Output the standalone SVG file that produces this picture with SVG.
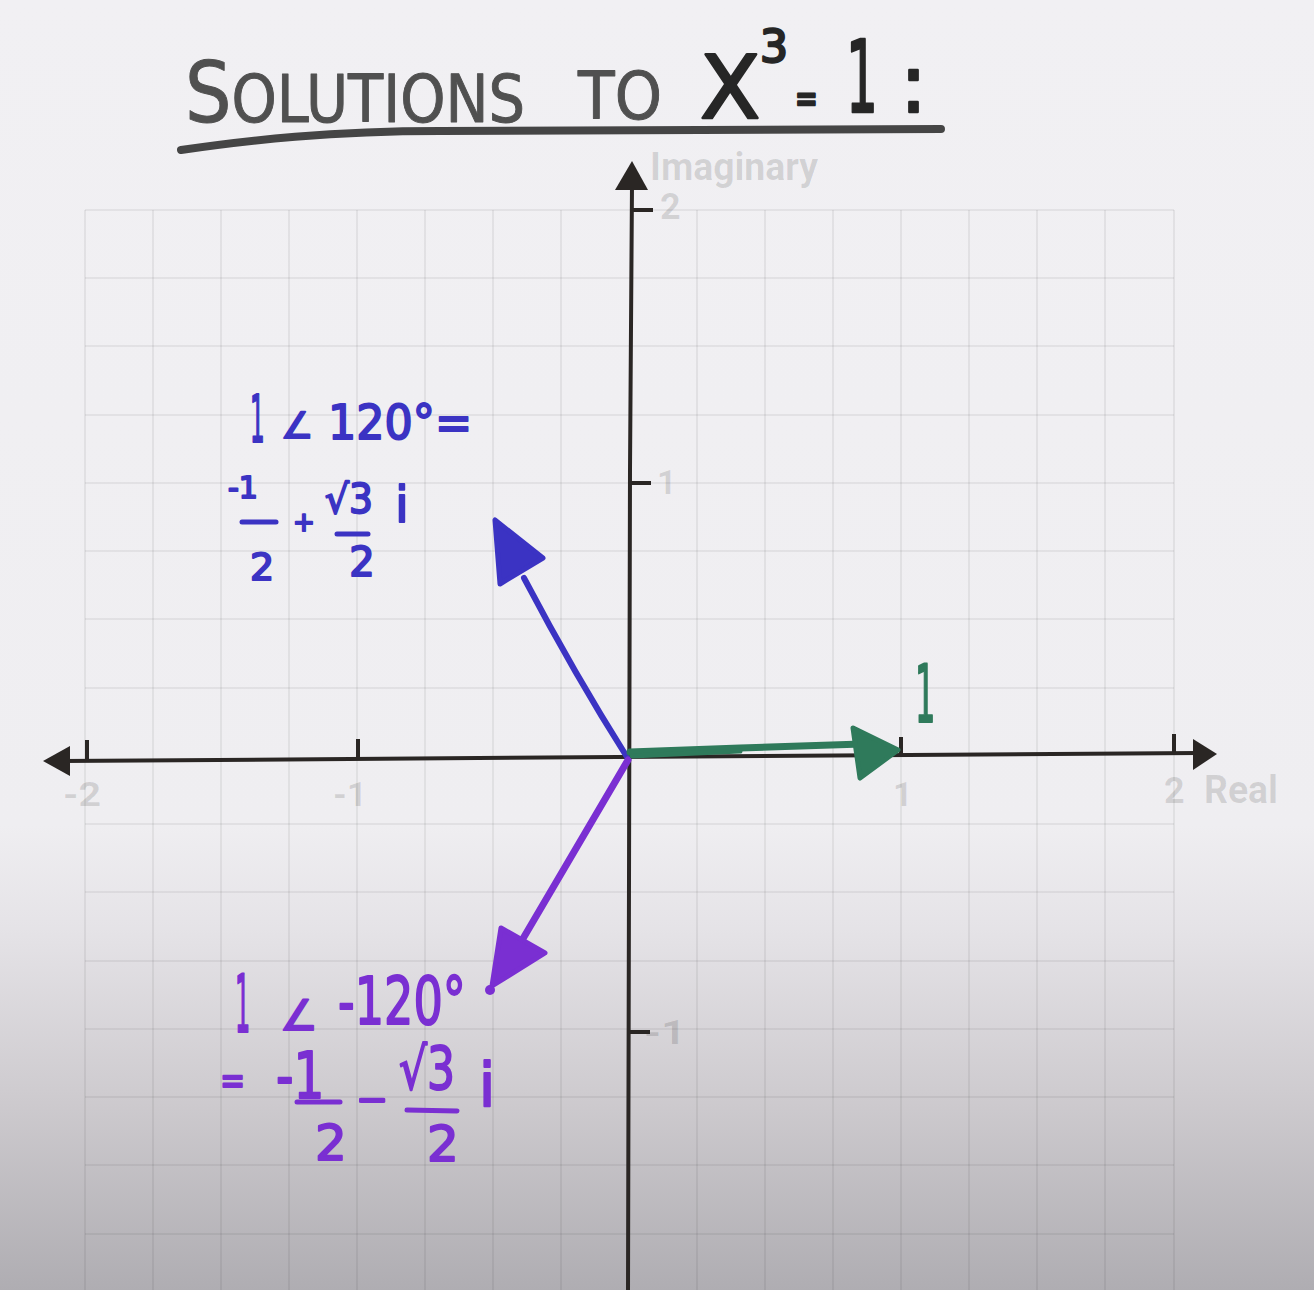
<svg xmlns="http://www.w3.org/2000/svg" width="1314" height="1290" viewBox="0 0 1314 1290">
<defs>
<linearGradient id="bg" x1="0" y1="0" x2="0" y2="1">
<stop offset="0" stop-color="#f1f0f3"/>
<stop offset="0.64" stop-color="#efeef1"/>
<stop offset="0.72" stop-color="#e5e3e7"/>
<stop offset="0.85" stop-color="#cecbcf"/>
<stop offset="1" stop-color="#afadb2"/>
</linearGradient>
<style>
.grid line{stroke:#000;stroke-opacity:0.075;stroke-width:1.6}
.axis{stroke:#2a2624;stroke-width:4;fill:none;stroke-linecap:butt}
.ahead{fill:#2a2624}
.lbl{font-family:Roboto,"Liberation Sans",sans-serif;font-weight:700;fill:#000;fill-opacity:0.13}
.hand{font-family:"DejaVu Sans",sans-serif;stroke-linejoin:round;stroke-linecap:round}
.title{fill:#505050;stroke:#505050;stroke-width:1}
.eq{fill:#262626;stroke:#262626;stroke-width:2.5}
.blue{fill:#3b33c3;stroke:#3b33c3;stroke-width:2}
.purple{fill:#7a2fd2;stroke:#7a2fd2;stroke-width:2}
.green{fill:#2f7a5b;stroke:#2f7a5b;stroke-width:2}
.bar{stroke-width:5;stroke-linecap:round}
</style>
</defs>
<rect width="1314" height="1290" fill="url(#bg)"/>
<g id="grid" class="grid">
<line x1="85" y1="210" x2="85" y2="1290"/><line x1="153" y1="210" x2="153" y2="1290"/><line x1="221" y1="210" x2="221" y2="1290"/><line x1="289" y1="210" x2="289" y2="1290"/><line x1="357" y1="210" x2="357" y2="1290"/><line x1="425" y1="210" x2="425" y2="1290"/><line x1="493" y1="210" x2="493" y2="1290"/><line x1="561" y1="210" x2="561" y2="1290"/><line x1="697" y1="210" x2="697" y2="1290"/><line x1="765" y1="210" x2="765" y2="1290"/><line x1="833" y1="210" x2="833" y2="1290"/><line x1="901" y1="210" x2="901" y2="1290"/><line x1="969" y1="210" x2="969" y2="1290"/><line x1="1037" y1="210" x2="1037" y2="1290"/><line x1="1105" y1="210" x2="1105" y2="1290"/><line x1="1174" y1="210" x2="1174" y2="1290"/>
<line x1="85" y1="210" x2="1174" y2="210"/><line x1="85" y1="278" x2="1174" y2="278"/><line x1="85" y1="346" x2="1174" y2="346"/><line x1="85" y1="415" x2="1174" y2="415"/><line x1="85" y1="483" x2="1174" y2="483"/><line x1="85" y1="551" x2="1174" y2="551"/><line x1="85" y1="619" x2="1174" y2="619"/><line x1="85" y1="688" x2="1174" y2="688"/><line x1="85" y1="824" x2="1174" y2="824"/><line x1="85" y1="892" x2="1174" y2="892"/><line x1="85" y1="961" x2="1174" y2="961"/><line x1="85" y1="1029" x2="1174" y2="1029"/><line x1="85" y1="1097" x2="1174" y2="1097"/><line x1="85" y1="1165" x2="1174" y2="1165"/><line x1="85" y1="1234" x2="1174" y2="1234"/>
</g>
<g id="axis-labels" class="lbl">
<text x="650" y="180" font-size="38" textLength="168" lengthAdjust="spacingAndGlyphs">Imaginary</text>
<text x="660" y="219" font-size="36">2</text>
<text x="657" y="494" font-size="34">1</text>
<text x="644" y="1044" font-size="34" textLength="42" lengthAdjust="spacingAndGlyphs">-1</text>
<text x="63" y="806" font-size="34" textLength="38" lengthAdjust="spacingAndGlyphs">-2</text>
<text x="333" y="806" font-size="34" textLength="34" lengthAdjust="spacingAndGlyphs">-1</text>
<text x="893" y="806" font-size="34">1</text>
<text x="1164" y="803" font-size="36">2</text>
<text x="1204" y="803" font-size="38" textLength="74" lengthAdjust="spacingAndGlyphs">Real</text>
</g>
<g id="axes">
<path class="axis" d="M62,761 L1198,753"/>
<path class="axis" d="M632,185 L630,470 L628,1290"/>
<polygon class="ahead" points="43,761 70,746 70,776"/>
<polygon class="ahead" points="1217,754 1193,739 1193,770"/>
<polygon class="ahead" points="632,161 615,190 648,190"/>
<path class="axis" d="M87,760 V740 M358,759 V739 M901,755 V737 M1174,753 V734 M632,210 H653 M630,483 H651 M629,1032 H650"/>
</g>
<g id="title">
<text class="hand title" transform="translate(185,122) scale(0.872,1)" font-size="66"><tspan font-size="84">S</tspan>OLUTIONS</text>
<text class="hand title" transform="translate(578,119) scale(0.91,1)" font-size="66">TO</text>
<text class="hand eq" x="700" y="118" font-size="88">X</text>
<text class="hand eq" x="760" y="62" font-size="44">3</text>
<text class="hand eq" transform="translate(795,112) scale(0.68,1)" font-size="40">=</text>
<text class="hand eq" transform="translate(846,112) scale(0.5,1)" font-size="100">1</text>
<text class="hand eq" x="900" y="112" font-size="80">:</text>
<path d="M181,150 C250,140 330,131 440,131 C620,131 800,131 941,129" fill="none" stroke="#454545" stroke-width="8" stroke-linecap="round"/>
</g>
<g id="root-1">
<text class="hand green" transform="translate(915,722) scale(0.4,1)" font-size="80">1</text>
</g>
<g id="root-120">
<text class="hand blue" transform="translate(250,442) scale(0.35,1)" font-size="66">1</text>
<text class="hand blue" x="281" y="438" font-size="36">∠</text>
<text class="hand blue" transform="translate(328,439) scale(0.925,1)" font-size="48">120°=</text>
<text class="hand blue" x="228" y="498" font-size="30">-1</text>
<line class="blue bar" x1="242" y1="522" x2="276" y2="522"/>
<text class="hand blue" x="262" y="580" font-size="38" text-anchor="middle">2</text>
<text class="hand blue" x="304" y="531" font-size="26" text-anchor="middle">+</text>
<text class="hand blue" transform="translate(325,513) scale(0.94,1)" font-size="40">√3</text>
<line class="blue bar" x1="337" y1="534" x2="368" y2="534"/>
<text class="hand blue" x="362" y="576" font-size="40" text-anchor="middle">2</text>
<text class="hand blue" x="402" y="522" font-size="50" text-anchor="middle">i</text>
</g>
<g id="root-neg120">
<text class="hand purple" transform="translate(235,1032) scale(0.3,1)" font-size="80">1</text>
<text class="hand purple" x="280" y="1030" font-size="42">∠</text>
<text class="hand purple" transform="translate(338,1024) scale(0.7,1)" font-size="66">-120°</text>
<text class="hand purple" transform="translate(220,1094) scale(0.75,1)" font-size="40">=</text>
<text class="hand purple" transform="translate(276,1098) scale(0.76,1)" font-size="64">-1</text>
<line class="purple bar" x1="297" y1="1102" x2="340" y2="1102"/>
<text class="hand purple" x="331" y="1160" font-size="50" text-anchor="middle">2</text>
<text class="hand purple" transform="translate(357,1112) scale(2.1,1)" font-size="40">-</text>
<text class="hand purple" transform="translate(399,1089) scale(0.76,1)" font-size="58">√3</text>
<line class="purple bar" x1="407" y1="1110" x2="457" y2="1111"/>
<text class="hand purple" x="443" y="1161" font-size="50" text-anchor="middle">2</text>
<text class="hand purple" x="487" y="1106" font-size="60" text-anchor="middle">i</text>
</g>
<g id="connectors">
<path d="M627,757 Q575,675 524,578" fill="none" stroke="#3b33c3" stroke-width="6" stroke-linecap="round"/>
<polygon points="495,520 500,584 543,558" fill="#3b33c3" stroke="#3b33c3" stroke-width="5" stroke-linejoin="round"/>
<path d="M628,760 L521,942" fill="none" stroke="#7a2fd2" stroke-width="7" stroke-linecap="round"/>
<polygon points="501,928 545,953 492,986" fill="#7a2fd2" stroke="#7a2fd2" stroke-width="5" stroke-linejoin="round"/>
<circle cx="490" cy="990" r="5" fill="#7a2fd2"/>
<path d="M630,752 L740,748 L862,744" fill="none" stroke="#2f7a5b" stroke-width="7" stroke-linecap="round"/>
<path d="M632,756 L740,751" fill="none" stroke="#2f7a5b" stroke-width="5" stroke-linecap="round"/>
<polygon points="853,728 898,750 860,778" fill="#2f7a5b" stroke="#2f7a5b" stroke-width="5" stroke-linejoin="round"/>
</g>
</svg>
